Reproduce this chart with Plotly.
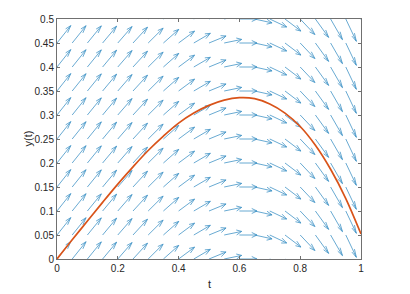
import numpy as np
import plotly.graph_objects as go

# Grid of the direction field
t_grid = [round(0.05 * i, 2) for i in range(21)]
y_grid = [round(0.05 * j, 2) for j in range(11)]
# slope dy/dt read per column (field looks independent of y)
slopes = [0.80, 0.79, 0.78, 0.76, 0.73, 0.69, 0.63, 0.56, 0.47, 0.37, 0.26,
          0.13, 0.00, -0.14, -0.30, -0.48, -0.67, -0.88, -1.10, -1.34, -1.60]

# Solution curve
curve_t = [0, 0.05, 0.1, 0.15, 0.2, 0.25, 0.3, 0.35, 0.4, 0.45, 0.5,
           0.55, 0.6, 0.65, 0.7, 0.75, 0.8, 0.85, 0.9, 0.95, 1.0]
curve_y = [0, 0.040, 0.079, 0.118, 0.156, 0.192, 0.226, 0.256, 0.283, 0.304, 0.320,
           0.331, 0.336, 0.334, 0.323, 0.304, 0.276, 0.237, 0.187, 0.126, 0.052]

x_ticks = [0, 0.2, 0.4, 0.6, 0.8, 1]
y_ticks = [round(0.05 * j, 2) for j in range(11)]

L = 0.058
alpha, beta = 0.30, 0.30
xs, ys = [], []
for ti, s in zip(t_grid, slopes):
    n = np.hypot(1.0, s)
    u, v = L / n, L * s / n
    for yj in y_grid:
        hx, hy = ti + u, yj + v
        xs += [ti, hx, None]
        ys += [yj, hy, None]
        xs += [hx - alpha * (u + beta * v), hx, hx - alpha * (u - beta * v), None]
        ys += [hy - alpha * (v - beta * u), hy, hy - alpha * (v + beta * u), None]

fig = go.Figure()
fig.add_trace(go.Scatter(x=xs, y=ys, mode="lines",
                         line=dict(color="#4394c6", width=0.8), hoverinfo="skip"))
fig.add_trace(go.Scatter(x=curve_t, y=curve_y, mode="lines",
                         line=dict(color="#D95319", width=1.7, shape="spline")))

font = dict(family="Liberation Sans, Arial", size=10, color="#262626")
title_font = dict(family="Liberation Sans, Arial", size=11, color="#262626")
axis_common = dict(showgrid=False, zeroline=False, showline=True, mirror="ticks",
                   linecolor="#707070", linewidth=1, ticks="inside", ticklen=3,
                   tickcolor="#707070", tickfont=font, automargin=False)
fig.update_layout(
    width=402, height=286, showlegend=False,
    paper_bgcolor="white", plot_bgcolor="white",
    margin=dict(l=49, r=49, t=11, b=35),
    xaxis=dict(range=[0, 1], tickvals=x_ticks, ticktext=["0", "0.2", "0.4", "0.6", "0.8", "1"],
               **axis_common),
    yaxis=dict(range=[0, 0.5], tickvals=y_ticks, ticktext=[("%g" % v) for v in y_ticks],
               **axis_common),
    annotations=[
        dict(text="t", xref="paper", yref="paper", x=0.5, y=-0.105,
             xanchor="center", yanchor="middle", showarrow=False, font=title_font),
        dict(text="y(t)", xref="paper", yref="paper", x=-0.097, y=0.5, textangle=-90,
             xanchor="center", yanchor="middle", showarrow=False, font=title_font),
    ],
)
fig.write_html("out.html")
